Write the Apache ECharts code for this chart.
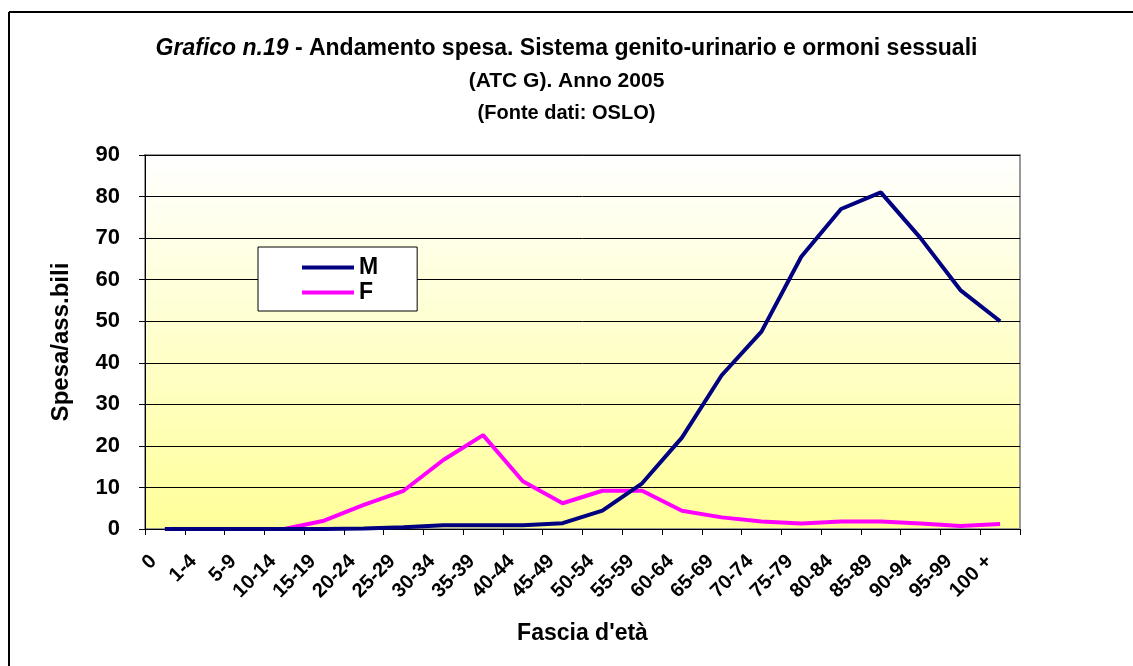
<!DOCTYPE html>
<html>
<head>
<meta charset="utf-8">
<script src="https://cdn.jsdelivr.net/npm/echarts@6/dist/echarts.min.js"></script>
<style>
  html, body { margin: 0; padding: 0; background: #fff; }
  #main { width: 1133px; height: 666px; }
</style>
</head>
<body>
<div id="main"></div>
<script>
// fasce d'età
var fasce = ['0', '1-4', '5-9', '10-14', '15-19', '20-24', '25-29', '30-34', '35-39', '40-44', '45-49',
  '50-54', '55-59', '60-64', '65-69', '70-74', '75-79', '80-84', '85-89', '90-94', '95-99', '100 +'];
// spesa per assistibile, maschi
var datiM = [0, 0, 0, 0, 0, 0.1, 0.4, 0.9, 0.9, 0.9, 1.4, 4.4, 11, 22, 37, 47.5, 65.5, 77, 81, 70, 57.5, 50];
// spesa per assistibile, femmine
var datiF = [0, 0, 0, 0, 2, 5.8, 9.2, 16.6, 22.6, 11.5, 6.2, 9.2, 9.2, 4.4, 2.8, 1.8, 1.3, 1.8, 1.8, 1.3, 0.7, 1.2];
var yTicks = [0, 90, 10]; // min, max, passo

var chart = echarts.init(document.getElementById('main'));
var fnt = 'Arial, "Liberation Sans", sans-serif';

var option = {
  backgroundColor: '#fff',
  animation: false,
  title: {
    text: '{i|Grafico n.19}{b| - Andamento spesa. Sistema genito-urinario e ormoni sessuali}\n{c|(ATC G). Anno 2005}\n{d|(Fonte dati: OSLO)}',
    left: 'center',
    top: 28,
    textStyle: {
      lineHeight: 32,
      rich: {
        i: { fontFamily: fnt, fontStyle: 'italic', fontSize: 23, color: '#000', lineHeight: 32 },
        b: { fontFamily: fnt, fontWeight: 'bold', fontSize: 23, color: '#000', lineHeight: 32 },
        c: { fontFamily: fnt, fontWeight: 'bold', fontSize: 21, color: '#000', lineHeight: 32 },
        d: { fontFamily: fnt, fontWeight: 'bold', fontSize: 20, color: '#000', lineHeight: 32 }
      }
    }
  },
  legend: {
    left: 258,
    top: 247,
    orient: 'vertical',
    data: ['M', 'F'],
    icon: 'rect',
    itemWidth: 52,
    itemHeight: 4,
    itemGap: 2,
    padding: [9, 39, 7, 44],
    backgroundColor: '#fff',
    borderColor: '#000',
    borderWidth: 1,
    borderRadius: 0,
    textStyle: { fontFamily: fnt, fontWeight: 'bold', fontSize: 23, color: '#000' }
  },
  grid: {
    left: 145,
    right: 113,
    top: 155,
    bottom: 137,
    show: true,
    borderColor: '#999',
    borderWidth: 2,
    backgroundColor: new echarts.graphic.LinearGradient(0, 0, 0, 1, [
      { offset: 0, color: '#ffffff' },
      { offset: 1, color: '#ffff99' }
    ])
  },
  xAxis: {
    type: 'category',
    data: fasce,
    boundaryGap: true,
    name: "Fascia d'età",
    nameLocation: 'middle',
    nameGap: 93,
    nameMoveOverlap: false,
    nameTextStyle: { fontFamily: fnt, fontWeight: 'bold', fontSize: 23, color: '#000' },
    axisLine: { lineStyle: { color: '#000', width: 1 } },
    axisTick: { show: true, inside: false, length: 6, alignWithLabel: false, lineStyle: { color: '#000' } },
    axisLabel: {
      interval: 0,
      rotate: 45,
      margin: 18,
      padding: [0, 16, 0, 0],
      fontFamily: fnt,
      fontWeight: 'bold',
      fontSize: 20,
      color: '#000'
    },
    splitLine: { show: false }
  },
  yAxis: {
    type: 'value',
    min: yTicks[0],
    max: yTicks[1],
    interval: yTicks[2],
    name: 'Spesa/ass.bili',
    nameLocation: 'middle',
    nameGap: 72,
    nameTextStyle: { fontFamily: fnt, fontWeight: 'bold', fontSize: 24, color: '#000' },
    axisLine: { show: true, lineStyle: { color: '#000', width: 1 } },
    axisTick: { show: true, inside: false, length: 6, lineStyle: { color: '#000' } },
    axisLabel: { margin: 25, fontFamily: fnt, fontWeight: 'bold', fontSize: 22, color: '#000' },
    splitLine: { show: true, lineStyle: { color: '#000', width: 1 } }
  },
  series: [
    {
      name: 'M',
      type: 'line',
      data: datiM,
      symbol: 'none',
      lineStyle: { color: '#000080', width: 4 },
      itemStyle: { color: '#000080' },
      z: 3
    },
    {
      name: 'F',
      type: 'line',
      data: datiF,
      symbol: 'none',
      lineStyle: { color: '#ff00ff', width: 4 },
      itemStyle: { color: '#ff00ff' },
      z: 2
    }
  ],
  graphic: [
    { type: 'line', shape: { x1: 9, y1: 12, x2: 1133, y2: 12 }, style: { stroke: '#000', lineWidth: 2 } },
    { type: 'line', shape: { x1: 9, y1: 12, x2: 9, y2: 666 }, style: { stroke: '#000', lineWidth: 2 } }
  ]
};

chart.setOption(option);
</script>
</body>
</html>
